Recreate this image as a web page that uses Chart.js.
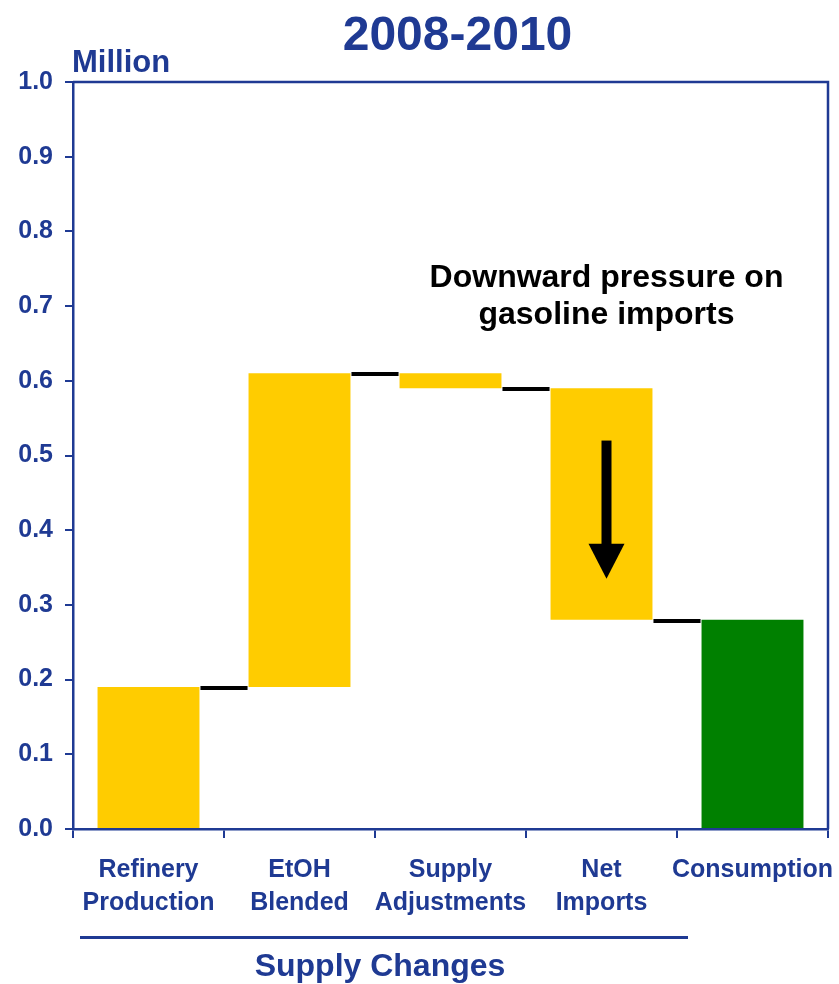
<!DOCTYPE html>
<html>
<head>
<meta charset="utf-8">
<script src="https://cdn.jsdelivr.net/npm/chart.js@4"></script>
<style>
  body { margin: 0; background: #fff; }
  #wrap { width: 839px; height: 984px; }
</style>
</head>
<body>
<div id="wrap"><canvas id="waterfall"></canvas></div>
<script>
// waterfall data, million
const categories = [["Refinery", "Production"], ["EtOH", "Blended"], ["Supply", "Adjustments"], ["Net", "Imports"], "Consumption"];
const barStart = [0, 0.19, 0.61, 0.59, 0];
const barEnd = [0.19, 0.61, 0.59, 0.28, 0.28];
const connectorLevels = [0.19, 0.61, 0.59, 0.28];
const barColors = ["#ffcc00", "#ffcc00", "#ffcc00", "#ffcc00", "#008000"];
const yTicks = [0, 0.1, 0.2, 0.3, 0.4, 0.5, 0.6, 0.7, 0.8, 0.9, 1.0];
const arrowFrom = 0.52;
const arrowTo = 0.335;

const blue = "#1f3a93";
const fontFam = "'Liberation Sans', Arial, sans-serif";

// connectors, arrow, box border and the extra texts
const extras = {
  id: "extras",
  afterDatasetsDraw(chart) {
    const ctx = chart.ctx;
    const x = chart.scales.x, y = chart.scales.y;
    const bars = chart.getDatasetMeta(0).data;

    ctx.save();
    ctx.fillStyle = "#000";
    connectorLevels.forEach((lvl, i) => {
      const a = bars[i], b = bars[i + 1];
      const x1 = a.x + a.width / 2 + 1;
      const x2 = b.x - b.width / 2 - 1;
      const py = Math.round(y.getPixelForValue(lvl));
      ctx.fillRect(x1, py - 1, x2 - x1, 4);
    });

    // arrow in the net imports bar
    const ax = x.getPixelForValue(3) + 5;
    const top = y.getPixelForValue(arrowFrom);
    const tip = y.getPixelForValue(arrowTo);
    const headH = 35;
    ctx.fillRect(ax - 5, top, 10, tip - top - headH + 1);
    ctx.beginPath();
    ctx.moveTo(ax - 18, tip - headH);
    ctx.lineTo(ax + 18, tip - headH);
    ctx.lineTo(ax, tip);
    ctx.closePath();
    ctx.fill();
    ctx.restore();
  },
  afterDraw(chart) {
    const ctx = chart.ctx;
    const area = chart.chartArea;
    const x = chart.scales.x, y = chart.scales.y;

    ctx.save();
    ctx.strokeStyle = blue;
    ctx.lineWidth = 2.5;
    ctx.beginPath();
    ctx.moveTo(area.left, area.top);
    ctx.lineTo(area.right, area.top);
    ctx.lineTo(area.right, area.bottom);
    ctx.stroke();

    ctx.fillStyle = blue;
    ctx.textBaseline = "alphabetic";
    ctx.textAlign = "center";
    ctx.font = "bold 48px " + fontFam;
    ctx.fillText("2008-2010", (area.left + area.right) / 2 + 7, 50);

    ctx.textAlign = "left";
    ctx.font = "bold 31px " + fontFam;
    ctx.fillText("Million", area.left - 1, 72);

    // annotation
    ctx.fillStyle = "#000";
    ctx.textAlign = "center";
    ctx.font = "bold 32px " + fontFam;
    const tx = x.getPixelForValue(3) + 5;
    const ty = y.getPixelForValue(0.7256);
    ctx.fillText("Downward pressure on", tx, ty);
    ctx.fillText("gasoline imports", tx, ty + 37);

    // bracket for the supply changes
    ctx.fillStyle = blue;
    ctx.fillRect(80, 936, 608, 3);
    ctx.font = "bold 32px " + fontFam;
    ctx.fillText("Supply Changes", 380, 976);
    ctx.restore();
  }
};

new Chart(document.getElementById("waterfall"), {
  type: "bar",
  data: {
    labels: categories,
    datasets: [{
      label: "Supply",
      data: barStart.map((s, i) => [s, barEnd[i]]),
      backgroundColor: barColors,
      borderWidth: 0,
      categoryPercentage: 1,
      barPercentage: 0.675
    }]
  },
  options: {
    responsive: true,
    maintainAspectRatio: false,
    animation: false,
    layout: { padding: { top: 82, right: 11, left: 0, bottom: 0 } },
    plugins: {
      legend: { display: false },
      tooltip: { enabled: false }
    },
    scales: {
      x: {
        afterFit(scale) {
          scale.height = 155;
          scale.paddingLeft = 0;
          scale.paddingRight = 0;
        },
        grid: { display: true, drawOnChartArea: false, drawTicks: true, tickLength: 9, color: blue, lineWidth: 2 },
        border: { display: true, color: blue, width: 2.5 },
        ticks: {
          color: blue,
          font: { family: fontFam, size: 25, weight: "bold", lineHeight: 1.32 },
          padding: 16,
          maxRotation: 0,
          autoSkip: false
        }
      },
      y: {
        min: 0,
        max: 1,
        afterFit(scale) { scale.width = 73; },
        afterBuildTicks(scale) { scale.ticks = yTicks.map(v => ({ value: v })); },
        grid: { display: true, drawOnChartArea: false, drawTicks: true, tickLength: 8, color: blue, lineWidth: 2 },
        border: { display: true, color: blue, width: 2.5 },
        ticks: {
          color: blue,
          font: { family: fontFam, size: 25, weight: "bold" },
          padding: 12,
          callback: v => v.toFixed(1)
        }
      }
    }
  },
  plugins: [extras]
});
</script>
</body>
</html>
